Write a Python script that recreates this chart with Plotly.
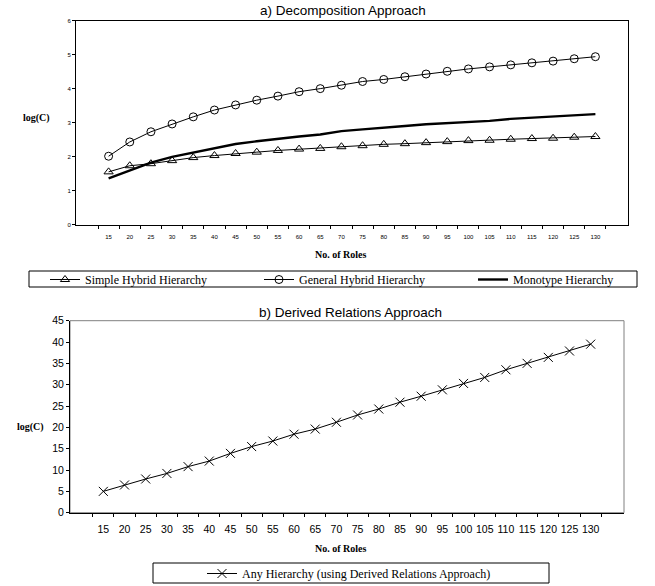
import plotly.graph_objects as go

roles = ['15', '20', '25', '30', '35', '40', '45', '50', '55', '60', '65', '70',
         '75', '80', '85', '90', '95', '100', '105', '110', '115', '120', '125', '130']

simple_hybrid = [1.55, 1.73, 1.79, 1.88, 1.97, 2.03, 2.09, 2.13, 2.18, 2.22, 2.24, 2.29,
                 2.32, 2.36, 2.38, 2.41, 2.44, 2.47, 2.48, 2.51, 2.53, 2.54, 2.57, 2.59]
general_hybrid = [2.01, 2.43, 2.73, 2.96, 3.17, 3.37, 3.52, 3.66, 3.78, 3.91, 4.00, 4.10,
                  4.21, 4.27, 4.35, 4.43, 4.51, 4.58, 4.64, 4.70, 4.76, 4.81, 4.88, 4.94]
monotype = [1.36, 1.60, 1.82, 1.99, 2.12, 2.24, 2.37, 2.45, 2.53, 2.59, 2.65, 2.75,
            2.80, 2.84, 2.90, 2.95, 2.98, 3.03, 3.05, 3.11, 3.14, 3.18, 3.22, 3.25]
any_hierarchy = [5.0, 6.5, 7.9, 9.2, 10.8, 12.1, 13.9, 15.5, 16.8, 18.4, 19.6, 21.2,
                 22.9, 24.3, 25.9, 27.3, 28.8, 30.3, 31.7, 33.5, 35.0, 36.4, 37.9, 39.5]

W, H = 655, 586
SANS = "Liberation Sans, Arial, sans-serif"
SERIF = "Liberation Serif, Times New Roman, serif"

def px(x):
    return x / W

def py(y):
    return 1 - y / H

fig = go.Figure()

fig.add_trace(go.Scatter(x=roles, y=simple_hybrid, name='Simple Hybrid Hierarchy',
                         mode='lines+markers', line=dict(color='black', width=1),
                         marker=dict(symbol='triangle-up-open', size=8, color='black',
                                     line=dict(width=1, color='black')),
                         xaxis='x', yaxis='y', legend='legend'))
fig.add_trace(go.Scatter(x=roles, y=general_hybrid, name='General Hybrid Hierarchy',
                         mode='lines+markers', line=dict(color='black', width=1),
                         marker=dict(symbol='circle-open', size=8, color='black',
                                     line=dict(width=1, color='black')),
                         xaxis='x', yaxis='y', legend='legend'))
fig.add_trace(go.Scatter(x=roles, y=monotype, name='Monotype Hierarchy',
                         mode='lines', line=dict(color='black', width=2.4),
                         xaxis='x', yaxis='y', legend='legend'))
fig.add_trace(go.Scatter(x=roles, y=any_hierarchy,
                         name='Any Hierarchy (using Derived Relations Approach)',
                         mode='lines+markers', line=dict(color='black', width=1),
                         marker=dict(symbol='x-thin', size=9, color='black',
                                     line=dict(width=1, color='black')),
                         xaxis='x2', yaxis='y2', legend='legend2'))

top_dom_x = [px(76), px(628)]
top_dom_y = [py(224.5), py(20.7)]
bot_dom_x = [px(70), px(624)]
bot_dom_y = [py(512.7), py(320.7)]

fig.update_layout(
    width=W, height=H,
    margin=dict(l=0, r=0, t=0, b=0, autoexpand=False),
    paper_bgcolor='white', plot_bgcolor='white',
    xaxis=dict(domain=top_dom_x, anchor='y', type='category', tickson='boundaries',
               ticks='outside', ticklen=3, tickcolor='black', showline=True,
               linecolor='black', linewidth=1, mirror=True, showgrid=False, tickangle=0,
               ticklabelstandoff=6,
               tickfont=dict(family=SANS, size=6, color='black')),
    yaxis=dict(domain=top_dom_y, anchor='x', range=[0, 6], dtick=1, ticks='outside',
               ticklen=3, tickcolor='black', showline=True, linecolor='black',
               linewidth=1, mirror=True, showgrid=False, zeroline=False,
               tickfont=dict(family=SANS, size=6, color='black')),
    xaxis2=dict(domain=bot_dom_x, anchor='y2', type='category', tickson='boundaries',
                ticks='outside', ticklen=3, tickcolor='black', showline=True,
                linecolor='black', linewidth=1, showgrid=False, tickangle=0,
                ticklabelstandoff=7,
                tickfont=dict(family=SANS, size=10.5, color='black')),
    yaxis2=dict(domain=bot_dom_y, anchor='x2', range=[0, 45], dtick=5, ticks='outside',
                ticklen=3, tickcolor='black', showline=True, linecolor='black',
                linewidth=1, showgrid=False, zeroline=False,
                tickfont=dict(family=SANS, size=10.5, color='black')),
    legend=dict(orientation='h', x=px(45), y=py(265), xanchor='left', yanchor='top',
                entrywidth=169, entrywidthmode='pixels', bgcolor='rgba(0,0,0,0)',
                borderwidth=0, font=dict(family=SERIF, size=12, color='black'),
                tracegroupgap=0),
    legend2=dict(orientation='h', x=px(202), y=py(559), xanchor='left', yanchor='top',
                 bgcolor='rgba(0,0,0,0)', borderwidth=0,
                 font=dict(family=SERIF, size=12, color='black')),
    showlegend=True,
)

# plot-area borders of the lower chart (gray top/right)
fig.add_shape(type='rect', xref='paper', yref='paper', x0=bot_dom_x[0], x1=bot_dom_x[1],
              y0=bot_dom_y[0], y1=bot_dom_y[1], line=dict(color='#808080', width=1),
              layer='below')
# legend boxes
fig.add_shape(type='rect', xref='paper', yref='paper', x0=px(29), x1=px(637),
              y0=py(287), y1=py(271), line=dict(color='black', width=1))
fig.add_shape(type='rect', xref='paper', yref='paper', x0=px(153), x1=px(549),
              y0=py(583), y1=py(563), line=dict(color='black', width=1))

annotations = [
    dict(text='a) Decomposition Approach', x=px(343), y=py(10), font=dict(family=SANS, size=13.5)),
    dict(text='b) Derived Relations Approach', x=px(350), y=py(312), font=dict(family=SANS, size=13.5)),
    dict(text='<b>log(C)</b>', x=px(36), y=py(118), font=dict(family=SERIF, size=10)),
    dict(text='<b>log(C)</b>', x=px(30), y=py(427), font=dict(family=SERIF, size=10)),
    dict(text='<b>No. of Roles</b>', x=px(340), y=py(255), font=dict(family=SERIF, size=10)),
    dict(text='<b>No. of Roles</b>', x=px(340), y=py(548), font=dict(family=SERIF, size=10)),
]
for a in annotations:
    a.update(xref='paper', yref='paper', showarrow=False, xanchor='center', yanchor='middle')
    a['font'].setdefault('color', 'black')
fig.update_layout(annotations=annotations)

fig.write_html("out.html", config={'displayModeBar': False},
               post_script="document.body.style.margin='0px';document.body.style.overflow='hidden';")
